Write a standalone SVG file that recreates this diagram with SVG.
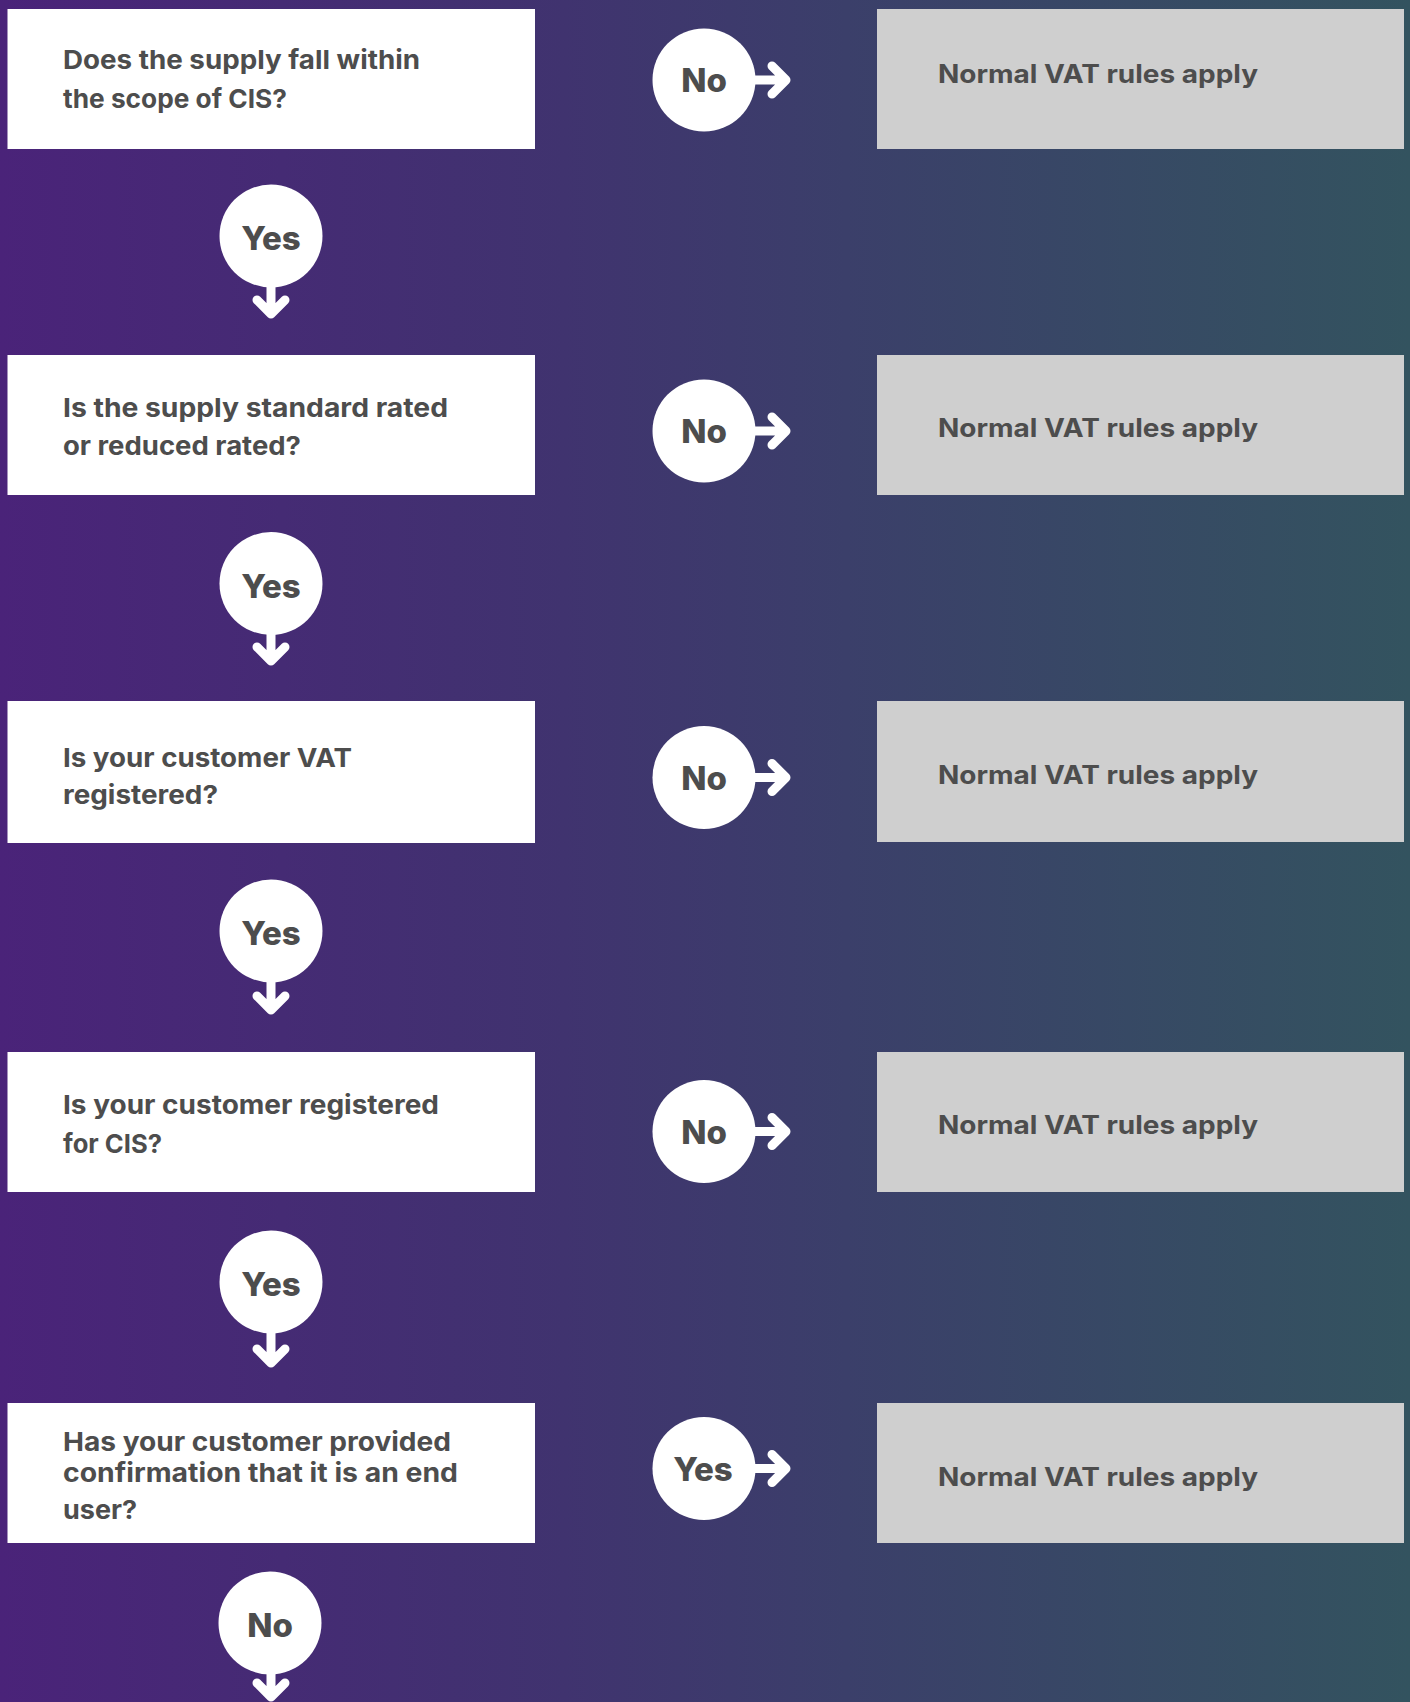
<svg xmlns="http://www.w3.org/2000/svg" width="1410" height="1702" viewBox="0 0 1410 1702">
<defs>
<linearGradient id="bg" x1="0" y1="0" x2="1" y2="0">
<stop offset="0" stop-color="#4a2379"/>
<stop offset="0.4" stop-color="#40336f"/>
<stop offset="0.6" stop-color="#3b3f6a"/>
<stop offset="1" stop-color="#33535f"/>
</linearGradient>
<style>
.q{fill:#ffffff}
.n{fill:#cfcfcf}
.t{font-family:Inter,"Liberation Sans",sans-serif;font-weight:700;font-size:26px;fill:#4d4d4d}
.nt{font-family:Inter,"Liberation Sans",sans-serif;font-weight:700;font-size:25px;fill:#4d4d4d}
.c{fill:#ffffff}
.ct{font-family:Inter,"Liberation Sans",sans-serif;font-weight:800;font-size:33px;fill:#4d4d4d;text-anchor:middle}
.a{fill:none;stroke:#ffffff;stroke-width:9;stroke-linecap:round;stroke-linejoin:round}
</style>
</defs>
<rect x="0" y="0" width="1410" height="1702" fill="url(#bg)"/>

<g id="connectors">
<path class="a" d="M271 236V314M257 300L271 314L285 300"/>
<path class="a" d="M271 583.5V661M257 647L271 661L285 647"/>
<path class="a" d="M271 931V1010M257 996L271 1010L285 996"/>
<path class="a" d="M271 1282V1363M257 1349L271 1363L285 1349"/>
<path class="a" d="M271 1623V1697M257 1683L271 1697L285 1683"/>
<path class="a" d="M704 80H786M772 66L786 80L772 94"/>
<path class="a" d="M704 431H786M772 417L786 431L772 445"/>
<path class="a" d="M704 777.5H786M772 763.5L786 777.5L772 791.5"/>
<path class="a" d="M704 1131.5H786M772 1117.5L786 1131.5L772 1145.5"/>
<path class="a" d="M704 1468.5H786M772 1454.5L786 1468.5L772 1482.5"/>
</g>

<g id="q1"><rect class="q" x="7.5" y="9" width="527.5" height="140"/>
<text class="t"><tspan x="63" y="69" textLength="357" lengthAdjust="spacingAndGlyphs">Does the supply fall within</tspan><tspan x="63" y="108" textLength="224" lengthAdjust="spacingAndGlyphs">the scope of CIS?</tspan></text></g>
<g id="q2"><rect class="q" x="7.5" y="355" width="527.5" height="140"/>
<text class="t"><tspan x="63" y="417" textLength="385" lengthAdjust="spacingAndGlyphs">Is the supply standard rated</tspan><tspan x="63" y="455" textLength="238" lengthAdjust="spacingAndGlyphs">or reduced rated?</tspan></text></g>
<g id="q3"><rect class="q" x="7.5" y="701" width="527.5" height="142"/>
<text class="t"><tspan x="63" y="767" textLength="289" lengthAdjust="spacingAndGlyphs">Is your customer VAT</tspan><tspan x="63" y="804" textLength="155" lengthAdjust="spacingAndGlyphs">registered?</tspan></text></g>
<g id="q4"><rect class="q" x="7.5" y="1052" width="527.5" height="140"/>
<text class="t"><tspan x="63" y="1114" textLength="376" lengthAdjust="spacingAndGlyphs">Is your customer registered</tspan><tspan x="63" y="1153" textLength="99" lengthAdjust="spacingAndGlyphs">for CIS?</tspan></text></g>
<g id="q5"><rect class="q" x="7.5" y="1403" width="527.5" height="140"/>
<text class="t"><tspan x="63" y="1451" textLength="388" lengthAdjust="spacingAndGlyphs">Has your customer provided</tspan><tspan x="63" y="1482" textLength="395" lengthAdjust="spacingAndGlyphs">confirmation that it is an end</tspan><tspan x="63" y="1519" textLength="74" lengthAdjust="spacingAndGlyphs">user?</tspan></text></g>

<g id="n1"><rect class="n" x="877" y="9" width="527" height="140"/><text class="nt" x="938" y="83" textLength="320" lengthAdjust="spacingAndGlyphs">Normal VAT rules apply</text></g>
<g id="n2"><rect class="n" x="877" y="355" width="527" height="140"/><text class="nt" x="938" y="437" textLength="320" lengthAdjust="spacingAndGlyphs">Normal VAT rules apply</text></g>
<g id="n3"><rect class="n" x="877" y="701" width="527" height="141"/><text class="nt" x="938" y="784" textLength="320" lengthAdjust="spacingAndGlyphs">Normal VAT rules apply</text></g>
<g id="n4"><rect class="n" x="877" y="1052" width="527" height="140"/><text class="nt" x="938" y="1134" textLength="320" lengthAdjust="spacingAndGlyphs">Normal VAT rules apply</text></g>
<g id="n5"><rect class="n" x="877" y="1403" width="527" height="140"/><text class="nt" x="938" y="1486" textLength="320" lengthAdjust="spacingAndGlyphs">Normal VAT rules apply</text></g>

<g id="d1"><circle class="c" cx="271" cy="236" r="51.5"/><text class="ct" x="271" y="250">Yes</text></g>
<g id="d2"><circle class="c" cx="271" cy="583.5" r="51.5"/><text class="ct" x="271" y="597.5">Yes</text></g>
<g id="d3"><circle class="c" cx="271" cy="931" r="51.5"/><text class="ct" x="271" y="945">Yes</text></g>
<g id="d4"><circle class="c" cx="271" cy="1282" r="51.5"/><text class="ct" x="271" y="1296">Yes</text></g>
<g id="d5"><circle class="c" cx="270" cy="1623" r="51.5"/><text class="ct" x="270" y="1637">No</text></g>

<g id="r1"><circle class="c" cx="704" cy="80" r="51.5"/><text class="ct" x="704" y="92">No</text></g>
<g id="r2"><circle class="c" cx="704" cy="431" r="51.5"/><text class="ct" x="704" y="443">No</text></g>
<g id="r3"><circle class="c" cx="704" cy="777.5" r="51.5"/><text class="ct" x="704" y="789.5">No</text></g>
<g id="r4"><circle class="c" cx="704" cy="1131.5" r="51.5"/><text class="ct" x="704" y="1143.5">No</text></g>
<g id="r5"><circle class="c" cx="704" cy="1468.5" r="51.5"/><text class="ct" x="703" y="1480.5">Yes</text></g>
</svg>
